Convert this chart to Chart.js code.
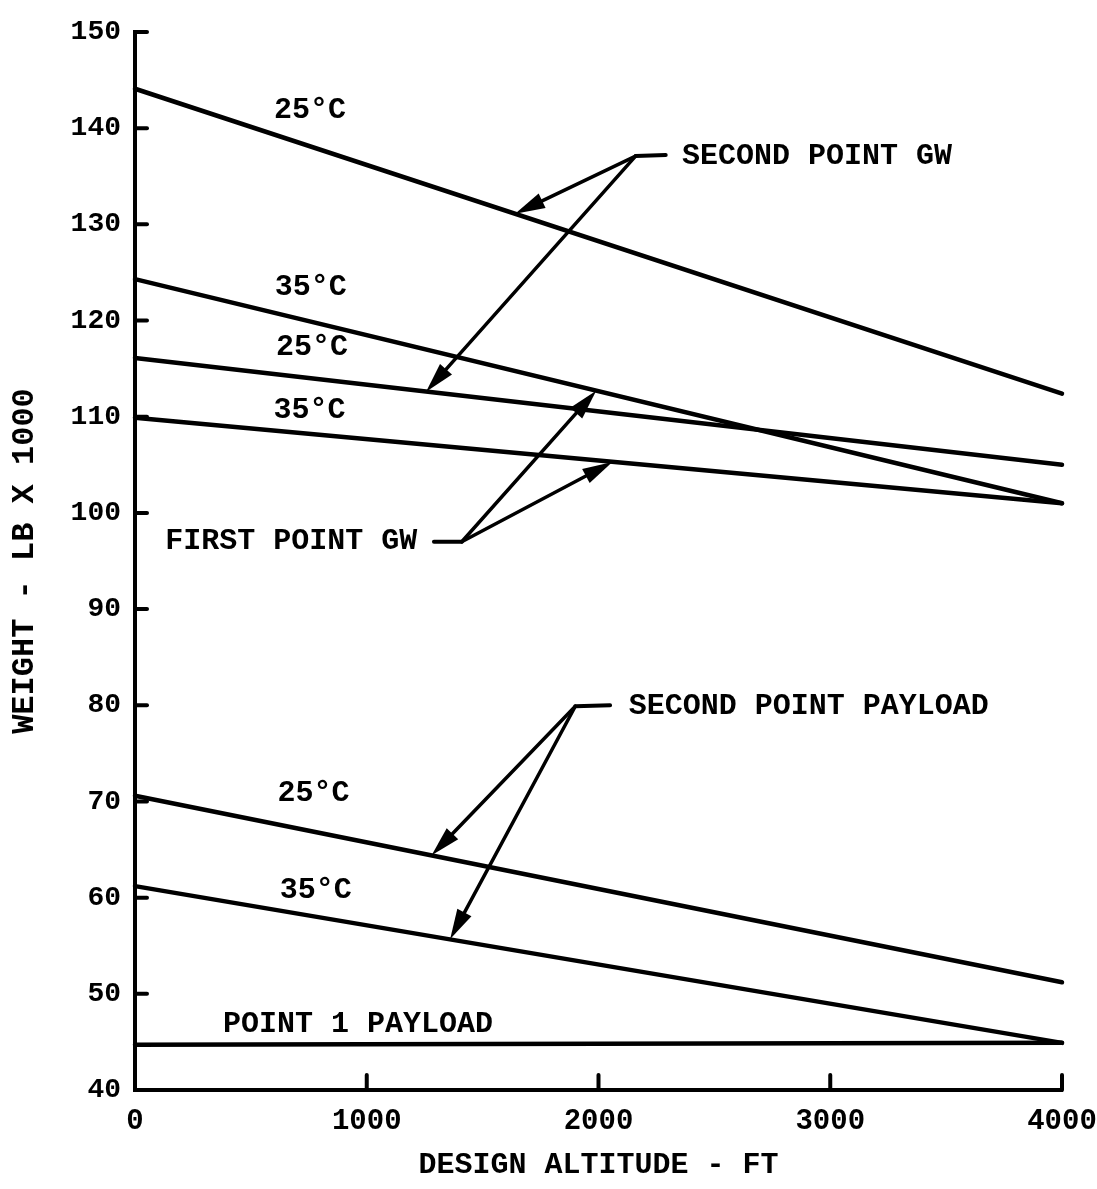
<!DOCTYPE html>
<html>
<head>
<meta charset="utf-8">
<title>Weight vs Design Altitude</title>
<script src="https://cdn.jsdelivr.net/npm/chart.js@4.4.1/dist/chart.umd.min.js"></script>
<style>
  html, body { margin: 0; padding: 0; background: #fff; }
  #wrap { width: 1097px; height: 1189px; }
</style>
</head>
<body>
<div id="wrap"><canvas id="chart" width="1097" height="1189"></canvas></div>
<script>
// x values (design altitude, ft) shared by every line
const altitudeFt = [0, 4000];

// weight, lb x 1000 (top to bottom)
const gwTop25 = [144.1, 112.4];
const gwUpper35 = [124.3, 101.0];
const gwLower25 = [116.1, 105.0];
const gwBottom35 = [109.9, 101.0];
const payload25 = [70.6, 51.2];
const payload35 = [61.2, 44.9];
const payloadPoint1 = [44.7, 44.9];

const xTicks = [0, 1000, 2000, 3000, 4000];
const yTicks = [40, 50, 60, 70, 80, 90, 100, 110, 120, 130, 140, 150];

// temperature tags beside the lines
const tempText = ['25°C', '35°C', '25°C', '35°C', '25°C', '35°C'];
const tempAt = [
  { x: 755, y: 141.8 }, { x: 758, y: 123.4 }, { x: 764, y: 117.2 },
  { x: 753, y: 110.7 }, { x: 770, y: 70.8 }, { x: 780, y: 60.7 }
];

// callouts: text, where the leader starts, and where each arrow lands (data units)
const callouts = [
  { text: 'SECOND POINT GW', align: 'left', textAt: { x: 2360, y: 137.1 },
    hub: { x: 2160, y: 137.1 }, leaderEnd: { x: 2290, y: 137.2 },
    tips: [{ x: 1640, y: 131.1 }, { x: 1256, y: 112.6 }] },
  { text: 'FIRST POINT GW', align: 'left', textAt: { x: 130, y: 97.0 },
    hub: { x: 1410, y: 97.0 }, leaderEnd: { x: 1290, y: 97.0 },
    tips: [{ x: 1990, y: 112.7 }, { x: 2060, y: 105.3 }] },
  { text: 'SECOND POINT PAYLOAD', align: 'left', textAt: { x: 2130, y: 79.9 },
    hub: { x: 1900, y: 79.9 }, leaderEnd: { x: 2050, y: 80.0 },
    tips: [{ x: 1280, y: 64.4 }, { x: 1360, y: 55.7 }] },
  { text: 'POINT 1 PAYLOAD', align: 'left', textAt: { x: 380, y: 46.8 },
    hub: null, leaderEnd: null, tips: [] }
];

const FONT = "'Liberation Mono', 'DejaVu Sans Mono', monospace";
const INK = '#000';

const toPoints = (ys) => altitudeFt.map((x, i) => ({ x: x, y: ys[i] }));

const lineSet = (ys) => ({
  data: toPoints(ys),
  borderColor: INK,
  borderWidth: 4.5,
  borderCapStyle: 'round',
  pointRadius: 0,
  tension: 0,
  clip: false
});

function drawArrow(ctx, x0, y0, x1, y1) {
  const ang = Math.atan2(y1 - y0, x1 - x0);
  const len = 30, half = 8;
  const bx = x1 - len * Math.cos(ang), by = y1 - len * Math.sin(ang);
  ctx.beginPath();
  ctx.moveTo(x0, y0);
  ctx.lineTo(bx, by);
  ctx.stroke();
  ctx.beginPath();
  ctx.moveTo(x1, y1);
  ctx.lineTo(bx + half * Math.sin(ang), by - half * Math.cos(ang));
  ctx.lineTo(bx - half * Math.sin(ang), by + half * Math.cos(ang));
  ctx.closePath();
  ctx.fill();
}

// inward tick marks + text annotations
const annotate = {
  id: 'annotate',
  afterDatasetsDraw(chart) {
    const { ctx, chartArea, scales: { x, y } } = chart;
    ctx.save();
    ctx.strokeStyle = INK;
    ctx.fillStyle = INK;
    ctx.lineCap = 'round';

    // ticks point into the plot
    ctx.lineWidth = 4;
    yTicks.slice(1).forEach((v) => {
      const py = y.getPixelForValue(v);
      ctx.beginPath();
      ctx.moveTo(chartArea.left, py);
      ctx.lineTo(chartArea.left + 12, py);
      ctx.stroke();
    });
    xTicks.slice(1).forEach((v) => {
      const px = x.getPixelForValue(v);
      ctx.beginPath();
      ctx.moveTo(px, chartArea.bottom);
      ctx.lineTo(px, chartArea.bottom - 15);
      ctx.stroke();
    });

    ctx.font = 'bold 30px ' + FONT;
    ctx.textBaseline = 'middle';
    ctx.textAlign = 'center';
    tempText.forEach((t, i) => {
      ctx.fillText(t, x.getPixelForValue(tempAt[i].x), y.getPixelForValue(tempAt[i].y));
    });

    callouts.forEach((c) => {
      ctx.textAlign = c.align;
      ctx.fillText(c.text, x.getPixelForValue(c.textAt.x), y.getPixelForValue(c.textAt.y));
      if (!c.hub) return;
      const hx = x.getPixelForValue(c.hub.x), hy = y.getPixelForValue(c.hub.y);
      ctx.lineWidth = 4;
      ctx.beginPath();
      ctx.moveTo(hx, hy);
      ctx.lineTo(x.getPixelForValue(c.leaderEnd.x), y.getPixelForValue(c.leaderEnd.y));
      ctx.stroke();
      ctx.lineWidth = 3.5;
      c.tips.forEach((t) => {
        drawArrow(ctx, hx, hy, x.getPixelForValue(t.x), y.getPixelForValue(t.y));
      });
    });
    ctx.restore();
  }
};

new Chart(document.getElementById('chart'), {
  type: 'line',
  data: {
    datasets: [
      lineSet(gwTop25), lineSet(gwUpper35), lineSet(gwLower25), lineSet(gwBottom35),
      lineSet(payload25), lineSet(payload35), lineSet(payloadPoint1)
    ]
  },
  options: {
    responsive: false,
    animation: false,
    layout: { padding: { top: 32, right: 35, left: 0, bottom: 0 } },
    plugins: { legend: { display: false }, tooltip: { enabled: false } },
    scales: {
      x: {
        type: 'linear',
        min: 0,
        max: 4000,
        afterBuildTicks: (s) => { s.ticks = xTicks.map((v) => ({ value: v })); },
        afterFit: (s) => { s.height = 99; s.paddingLeft = 0; s.paddingRight = 0; },
        grid: { display: false, drawTicks: false },
        border: { display: true, color: INK, width: 4 },
        ticks: { color: INK, padding: 14, maxRotation: 0, callback: (v) => String(v),
                 font: { family: FONT, size: 29, weight: 'bold' } },
        title: { display: true, text: 'DESIGN ALTITUDE - FT', color: INK,
                 padding: { top: 6, bottom: 6 }, font: { family: FONT, size: 30, weight: 'bold' } }
      },
      y: {
        type: 'linear',
        min: 40,
        max: 150,
        afterBuildTicks: (s) => { s.ticks = yTicks.map((v) => ({ value: v })); },
        afterFit: (s) => { s.width = 135; s.paddingTop = 0; s.paddingBottom = 0; },
        grid: { display: false, drawTicks: false },
        border: { display: true, color: INK, width: 4 },
        ticks: { color: INK, padding: 14, callback: (v) => String(v),
                 font: { family: FONT, size: 28, weight: 'bold' } },
        title: { display: true, text: 'WEIGHT - LB X 1000', color: INK,
                 padding: { top: 6, bottom: 6 }, font: { family: FONT, size: 32, weight: 'bold' } }
      }
    }
  },
  plugins: [annotate]
});
</script>
</body>
</html>
